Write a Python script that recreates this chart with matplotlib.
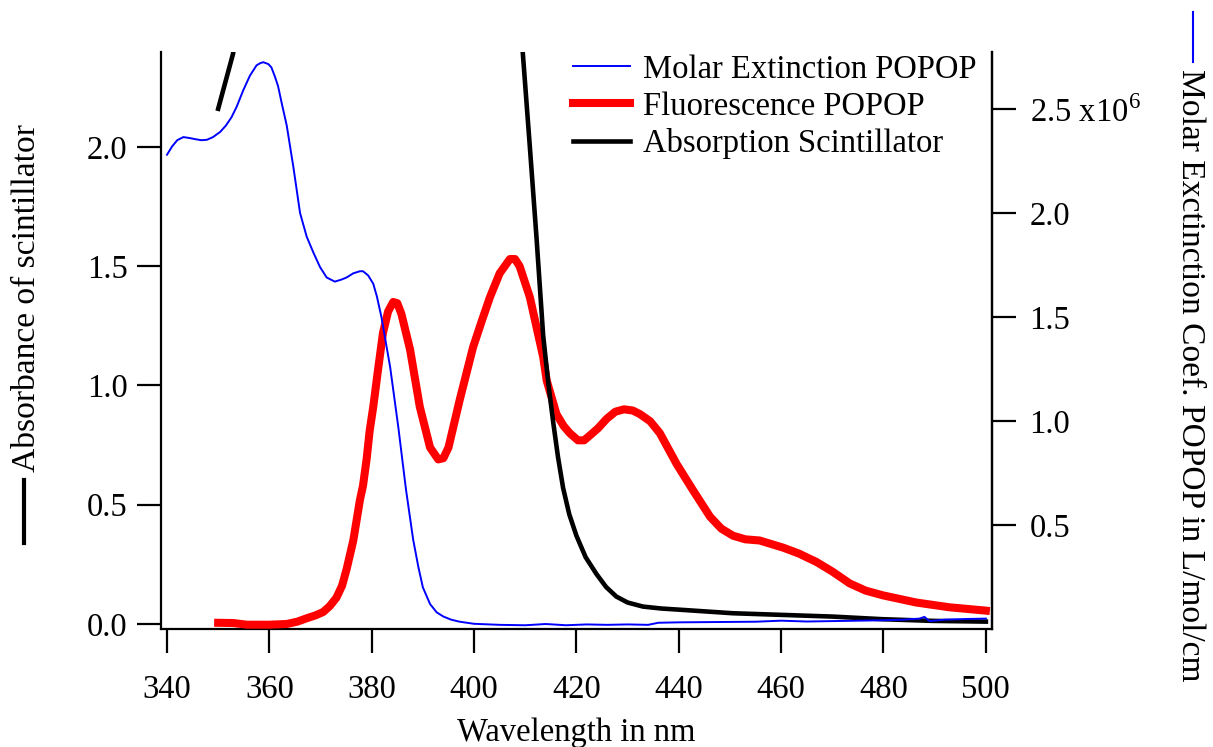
import matplotlib
matplotlib.use("Agg")
import matplotlib.pyplot as plt
from matplotlib.lines import Line2D

plt.rcParams['font.family'] = ['Liberation Serif', 'DejaVu Serif']
plt.rcParams['mathtext.fontset'] = 'custom'
plt.rcParams['mathtext.rm'] = 'Liberation Serif'

# ---- data ----
# Molar extinction of POPOP (units of 1e6 L/mol/cm), right axis
blue_wl = [340, 341.0, 342.0, 343.2, 344.5, 345.5, 346.7, 347.8, 349.0, 350.4, 351.5,
           352.6, 353.6, 354.9, 356.2, 357.5, 358.2, 358.8, 359.8, 360.4, 361.1, 361.7,
           362.4, 363.4, 364.7, 366.0, 367.3, 368.6, 369.9, 371.2, 372.8, 374.1, 375.1,
           376.4, 377.7, 378.3, 379.3, 380.3, 381.0, 381.9, 382.6, 383.6, 385.2, 386.7,
           388.1, 389.1, 390.0, 391.4, 392.7, 394.0, 395.5, 397.2,
           400, 405, 410, 414, 418, 422, 426, 430, 434, 436, 440, 445, 450, 455, 460,
           465, 470, 475, 480, 484, 487, 488, 489, 492, 496, 500]
blue_val = [2.28, 2.32, 2.35, 2.365, 2.36, 2.355, 2.35, 2.352, 2.365, 2.39, 2.42,
            2.46, 2.51, 2.59, 2.66, 2.71, 2.72, 2.725, 2.716, 2.70, 2.655, 2.61,
            2.53, 2.42, 2.22, 2.00, 1.886, 1.81, 1.74, 1.69, 1.67, 1.68, 1.69,
            1.71, 1.72, 1.72, 1.70, 1.66, 1.60, 1.50, 1.40, 1.26, 0.97, 0.67,
            0.43, 0.30, 0.20, 0.12, 0.08, 0.06, 0.045, 0.035,
            0.025, 0.02, 0.018, 0.024, 0.018, 0.022, 0.02, 0.022, 0.02, 0.03, 0.032, 0.033,
            0.034, 0.035, 0.04, 0.036, 0.038, 0.04, 0.042, 0.045, 0.05, 0.058, 0.038,
            0.045, 0.048, 0.05]

# Fluorescence of POPOP, left axis
red_wl = [350, 353, 355.6, 360, 363.4, 365.5, 367.3, 369.0, 370.5, 371.8, 373.1, 374.2,
          375.1, 376.4, 377.7, 378.3, 379.0, 379.6, 380.3, 381.2, 382.2, 383.2, 384.2,
          385.0, 385.8, 387.5, 389.4, 391.4, 393.0, 394.0, 395.0, 397.2, 399.8, 401.5,
          403.1, 405.0, 407.0, 408.0, 408.9, 410.9, 413.5, 414.2, 416.1, 417.5, 418.7,
          420.3, 421.5, 422.6, 424.2, 425.9, 427.6, 429.3, 431.0, 432.4, 434.4, 436.3,
          439.6, 442.8, 446.1, 448.3, 450.6, 453.0, 455.8, 460.4, 463.5, 466.9, 470.0,
          473.4, 476.5, 479.9, 486.4, 492.9, 500]
red_val = [0.005, 0.004, -0.003, -0.003, 0.0, 0.01, 0.024, 0.036, 0.05, 0.075, 0.11, 0.16,
           0.23, 0.35, 0.52, 0.58, 0.69, 0.81, 0.91, 1.06, 1.22, 1.31, 1.35,
           1.345, 1.30, 1.15, 0.91, 0.74, 0.69, 0.695, 0.74, 0.94, 1.16, 1.27,
           1.37, 1.47, 1.53, 1.53, 1.50, 1.37, 1.12, 1.02, 0.88, 0.83, 0.80,
           0.77, 0.77, 0.79, 0.82, 0.86, 0.89, 0.90, 0.895, 0.88, 0.85, 0.80,
           0.67, 0.56, 0.45, 0.40, 0.37, 0.355, 0.35, 0.32, 0.295, 0.26, 0.22,
           0.17, 0.14, 0.12, 0.09, 0.07, 0.056]

# Absorbance of the scintillator, left axis (off-scale between ~353 and ~409 nm)
black_wl = [350, 352.9, 354, 408.8, 409.5, 410.9, 412.2, 413.5, 414.5, 415.5, 416.4, 417.4,
            418.6, 420.0, 421.8, 423.9, 425.8, 427.8, 430.0, 433.0, 436.5, 440.8, 450.6,
            460.4, 470.1, 479.9, 489.6, 500]
black_val = [2.16, 2.39, 2.55, 2.55, 2.40, 2.00, 1.62, 1.21, 1.01, 0.84, 0.70, 0.57,
             0.46, 0.37, 0.28, 0.21, 0.155, 0.115, 0.09, 0.073, 0.065, 0.059, 0.045,
             0.038, 0.031, 0.020, 0.013, 0.010]

x_ticks = [340, 360, 380, 400, 420, 440, 460, 480, 500]
left_ticks = [0.0, 0.5, 1.0, 1.5, 2.0]
right_ticks = [0.5, 1.0, 1.5, 2.0, 2.5]
right_tick_labels = ["0.5", "1.0", "1.5", "2.0", "2.5 x10$^{\\mathregular{6}}$"]

legend_labels = ["Molar Extinction POPOP", "Fluorescence POPOP", "Absorption Scintillator"]

W, H = 1213, 747
FS = 23.5
FSL = 24.1
fig = plt.figure(figsize=(W / 100, H / 100), dpi=100)
ax = fig.add_axes([161 / W, 1 - 629 / H, (992 - 161) / W, (629 - 52) / H])
ax2 = ax.twinx()

l_red, = ax.plot(red_wl, red_val, color='#ff0000', lw=5.8, zorder=3)
l_black, = ax.plot(black_wl, black_val, color='black', lw=3.3, zorder=4)
l_blue, = ax2.plot(blue_wl, blue_val, color='#0000ff', lw=1.4, zorder=5)

ax.set_xlim(338.83, 501.2)
ax.set_ylim(-0.021, 2.398)
ax2.set_ylim(0.0, 2.774)

ax.set_xticks(x_ticks)
ax.set_xticklabels([str(t) for t in x_ticks])
ax.set_yticks(left_ticks)
ax.set_yticklabels(["%.1f" % t for t in left_ticks])
ax2.set_yticks(right_ticks)
ax2.set_yticklabels(right_tick_labels)

for a in (ax, ax2):
    a.spines['top'].set_visible(False)
    for s in a.spines.values():
        s.set_linewidth(1.6)
    a.tick_params(direction='out', length=17, width=1.6, labelsize=FS, pad=7)
ax.tick_params(axis='x', pad=16)
ax2.tick_params(axis='y', pad=10)
ax2.spines['left'].set_visible(False)
ax2.spines['bottom'].set_visible(False)

ax.set_xlabel("Wavelength in nm", fontsize=FS, labelpad=9)

# axis labels with their line keys
fig.text(27 / W, 1 - 298 / H, "Absorbance of scintillator", rotation=90,
         ha='center', va='center', fontsize=FSL)
fig.add_artist(Line2D([24 / W, 24 / W], [1 - 480 / H, 1 - 543 / H],
                      color='black', lw=3, transform=fig.transFigure))
fig.text(1190 / W, 1 - 375 / H, "Molar Exctinction Coef. POPOP in L/mol/cm", rotation=270,
         ha='center', va='center', fontsize=FSL)
fig.add_artist(Line2D([1193 / W, 1193 / W], [1 - 12 / H, 1 - 62 / H],
                      color='#0000ff', lw=1.5, transform=fig.transFigure))

leg = ax2.legend([l_blue, l_red, l_black], legend_labels, loc='upper left',
                 bbox_to_anchor=(573 / W, 1 - 54 / H), bbox_transform=fig.transFigure,
                 frameon=False, fontsize=FS, handlelength=1.75, handletextpad=0.4,
                 borderpad=0, borderaxespad=0, labelspacing=0.2)

fig.savefig("out.png", dpi=100)
